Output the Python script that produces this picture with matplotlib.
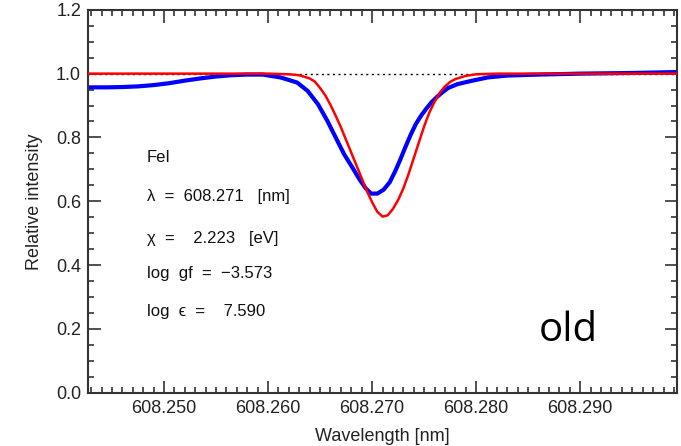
import numpy as np
import matplotlib.pyplot as plt
from matplotlib.ticker import MultipleLocator, FormatStrFormatter

# synthetic line profile (red)
syn_wave = [608.2427, 608.2600, 608.2620, 608.2630, 608.2640, 608.2645, 608.2650,
            608.2655, 608.2660, 608.2665, 608.2670, 608.2675, 608.2680, 608.2685,
            608.2690, 608.2695, 608.2700, 608.2705, 608.2710, 608.2715, 608.2720,
            608.2725, 608.2730, 608.2735, 608.2740, 608.2745, 608.2750, 608.2755,
            608.2760, 608.2765, 608.2770, 608.2775, 608.2780, 608.2790, 608.2800,
            608.2820, 608.2993]
syn_int = [1.000, 1.000, 0.998, 0.995, 0.985, 0.975, 0.955,
           0.932, 0.902, 0.868, 0.832, 0.792, 0.752, 0.712,
           0.672, 0.632, 0.597, 0.567, 0.552, 0.556, 0.576,
           0.604, 0.640, 0.685, 0.735, 0.785, 0.835, 0.878,
           0.912, 0.940, 0.960, 0.974, 0.983, 0.993, 0.998,
           1.000, 1.000]

# observed profile (blue)
obs_wave = [608.2428, 608.2445, 608.2460, 608.2475, 608.2490, 608.2505, 608.2520,
            608.2535, 608.2550, 608.2565, 608.2580, 608.2595, 608.2612, 608.2628,
            608.2638, 608.2648, 608.2657, 608.2665, 608.2673, 608.2681, 608.2688,
            608.2694, 608.2699, 608.2705, 608.2711, 608.2717, 608.2722, 608.2727,
            608.2732, 608.2737, 608.2742, 608.2747, 608.2752, 608.2757, 608.2762,
            608.2767, 608.2773, 608.2782, 608.2795, 608.2811, 608.2830, 608.2860,
            608.2900, 608.2950, 608.2993]
obs_int = [0.957, 0.957, 0.958, 0.960, 0.964, 0.970, 0.978,
           0.985, 0.991, 0.995, 0.997, 0.997, 0.988, 0.972,
           0.946, 0.904, 0.852, 0.800, 0.748, 0.706, 0.668,
           0.640, 0.624, 0.624, 0.636, 0.660, 0.693, 0.730,
           0.770, 0.808, 0.842, 0.868, 0.890, 0.910, 0.926,
           0.940, 0.955, 0.967, 0.977, 0.988, 0.994, 0.997,
           1.000, 1.002, 1.005]

line_info = ["FeI",
             "λ  =  608.271   [nm]",
             "χ  =    2.223   [eV]",
             "log  gf  =  −3.573",
             "log  ϵ  =    7.590"]
info_y = [0.614, 0.512, 0.404, 0.312, 0.212]

plt.rcParams['font.family'] = ['Liberation Sans', 'DejaVu Sans']

fig = plt.figure(figsize=(6.81, 4.46), dpi=100)
ax = fig.add_axes([0.1292, 0.1195, 0.865, 0.8585])

ax.axhline(1.0, color="black", lw=1, ls=(0, (1.5, 2.5)), zorder=1)
ax.plot(obs_wave, obs_int, color="blue", lw=3, zorder=2)
ax.plot(syn_wave, syn_int, color="red", lw=1.8, zorder=3)

ax.set_xlim(608.2427, 608.2993)
ax.set_ylim(0.0, 1.2)
ax.xaxis.set_major_locator(MultipleLocator(0.01))
ax.xaxis.set_minor_locator(MultipleLocator(0.001))
ax.yaxis.set_major_locator(MultipleLocator(0.2))
ax.yaxis.set_minor_locator(MultipleLocator(0.05))
ax.xaxis.set_major_formatter(FormatStrFormatter("%.3f"))
ax.yaxis.set_major_formatter(FormatStrFormatter("%.1f"))
ax.tick_params(which="both", direction="in", top=True, right=True,
               labelsize=13, colors="#333333", labelcolor="#222222", width=1.2)
ax.tick_params(which="major", length=9, pad=5)
ax.tick_params(which="minor", length=4.5)
for s in ax.spines.values():
    s.set_linewidth(1.5)
    s.set_color("#333333")

ax.set_xlabel("Wavelength [nm]", fontsize=13, labelpad=8, color="#222222")
ax.set_ylabel("Relative intensity", fontsize=13, labelpad=9, color="#222222")

for txt, yy in zip(line_info, info_y):
    ax.text(0.1, yy, txt, transform=ax.transAxes, fontsize=12, va="center",
            color="#111111")

fig.text(568 / 681, 1 - 331 / 446, "old", fontsize=29, family="Open Sans",
         ha="center", va="center")

fig.savefig("out.png", dpi=100)
